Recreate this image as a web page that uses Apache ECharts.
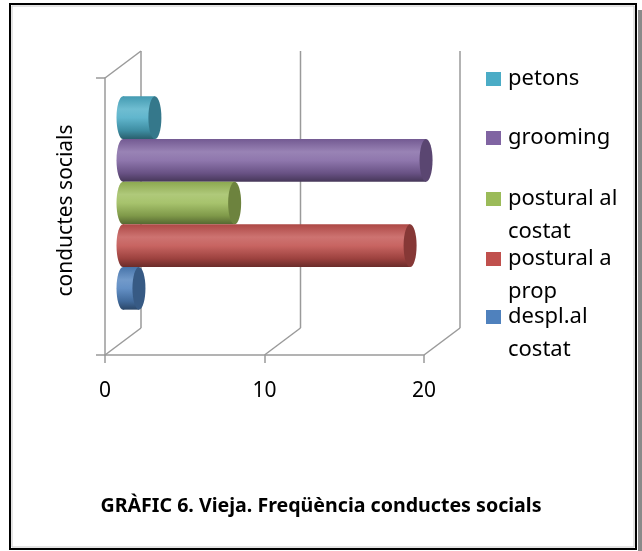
<!DOCTYPE html>
<html><head><meta charset="utf-8">
<script src="https://cdn.jsdelivr.net/npm/echarts@6/dist/echarts.min.js"></script>
<style>html,body{margin:0;padding:0;background:#fff}#c{width:642px;height:551px}</style>
</head><body><div id="c"></div>
<script>
// ---- data ----
const categories = ['conductes socials'];
const seriesNames = ['petons', 'grooming', 'postural al costat', 'postural a prop', 'despl.al costat'];
const petonsValues = [2];
const groomingValues = [19];
const posturalCostatValues = [7];
const posturalPropValues = [18];
const desplCostatValues = [1];
const legendLabels = ['petons', 'grooming', 'postural al\ncostat', 'postural a\nprop', 'despl.al\ncostat'];
const xTicks = [0, 10, 20];
const xMin = 0, xMax = 20, xStep = 10;
const titleText = 'GRÀFIC 6. Vieja. Freqüència conductes socials';
const yAxisTitle = 'conductes socials';

// ---- style ----
const colors = ['#4BACC6', '#8064A2', '#9BBB59', '#C0504D', '#4F81BD'];
const allValues = [petonsValues, groomingValues, posturalCostatValues, posturalPropValues, desplCostatValues];
const DX = 36, DY = -27; // oblique depth of the 3D box
const FONT = 'Noto Sans';
const GRID_COLOR = '#9a9a9a';

function shade(hex, f) {
  const n = parseInt(hex.slice(1), 16);
  const r = n >> 16, g = (n >> 8) & 255, b = n & 255;
  const m = f > 0 ? (c => Math.round(c + (255 - c) * f)) : (c => Math.round(c * (1 + f)));
  return 'rgb(' + m(r) + ',' + m(g) + ',' + m(b) + ')';
}
function bodyGrad(hex) {
  return new echarts.graphic.LinearGradient(0, 0, 0, 1, [
    { offset: 0, color: shade(hex, -0.1) },
    { offset: 0.3, color: shade(hex, 0.2) },
    { offset: 0.5, color: shade(hex, 0.12) },
    { offset: 0.8, color: shade(hex, -0.18) },
    { offset: 1, color: shade(hex, -0.45) }
  ]);
}

const N = seriesNames.length;
function barRender(idx) {
  return function (params, api) {
    const v = api.value(0), c = api.value(1);
    const p0 = api.coord([0, c]);
    const p1 = api.coord([v, c]);
    const band = api.size([0, 1])[1];
    const groupH = band * 0.77;
    const bh = groupH / N;
    const cy = p0[1] + DY / 2 - groupH / 2 + bh * (idx + 0.5);
    const x0 = p0[0] + DX / 2, x1 = p1[0] + DX / 2;
    const rx = 6.5, ry = bh / 2;
    const col = colors[idx];
    return {
      type: 'group',
      children: [
        { type: 'ellipse', shape: { cx: x0, cy: cy, rx: rx, ry: ry }, style: { fill: bodyGrad(col) } },
        { type: 'rect', shape: { x: x0, y: cy - ry, width: Math.max(0, x1 - x0), height: 2 * ry }, style: { fill: bodyGrad(col) } },
        { type: 'ellipse', shape: { cx: x1, cy: cy, rx: rx, ry: ry }, style: { fill: shade(col, -0.3) } }
      ]
    };
  };
}

function frameRender(params, api) {
  const t = api.value(0);
  const cs = params.coordSys;
  const p = api.coord([t, 0]);
  const top = cs.y, bottom = cs.y + cs.height;
  const st = { stroke: GRID_COLOR, lineWidth: 1.5, fill: null };
  const ch = [
    { type: 'line', shape: { x1: p[0] + DX, y1: top + DY, x2: p[0] + DX, y2: bottom + DY }, style: st },
    { type: 'line', shape: { x1: p[0], y1: bottom, x2: p[0] + DX, y2: bottom + DY }, style: st }
  ];
  if (params.dataIndex === 0) {
    ch.push({ type: 'line', shape: { x1: p[0], y1: top, x2: p[0] + DX, y2: top + DY }, style: st });
  }
  return { type: 'group', children: ch };
}

const series = [{
  type: 'custom', name: '_frame', z: 1, silent: true,
  renderItem: frameRender,
  encode: { x: 0, y: 1 },
  data: xTicks.map(t => [t, 0])
}];
seriesNames.forEach((nm, i) => {
  series.push({
    type: 'custom', name: nm, z: 3,
    itemStyle: { color: colors[i] },
    renderItem: barRender(i),
    encode: { x: 0, y: 1 },
    data: allValues[i].map((v, k) => [v, k])
  });
});

// legend icon centers (one legend per entry to mimic the Excel layout)
const legendCenters = [79, 138, 199, 259, 317];
const legends = seriesNames.map((nm, i) => {
  const twoLine = legendLabels[i].indexOf('\n') >= 0;
  return {
    data: [nm], orient: 'vertical', left: 486,
    top: legendCenters[i] - (twoLine ? 49.5 : 16.5),
    padding: 0, icon: 'rect', itemWidth: 15, itemHeight: 14,
    selectedMode: false,
    // a leading blank line keeps the icon level with the first text line
    formatter: () => (twoLine ? '\n' : '') + legendLabels[i],
    textStyle: { fontFamily: FONT, fontSize: 22, lineHeight: 33, color: '#000', padding: [0, 0, 0, 2] }
  };
});

const chart = echarts.init(document.getElementById('c'), null, { renderer: 'canvas' });
chart.setOption({
  animation: false,
  color: colors,
  title: {
    text: titleText, left: 'center', top: 491,
    textStyle: { fontFamily: FONT, fontSize: 19.6, fontWeight: 'bold', color: '#000' }
  },
  legend: legends,
  grid: { left: 105, top: 78, width: 319, height: 277 },
  xAxis: {
    type: 'value', min: xMin, max: xMax, interval: xStep,
    axisLine: { show: true, lineStyle: { color: GRID_COLOR, width: 1.5 } },
    axisTick: { show: true, length: 8, lineStyle: { color: GRID_COLOR, width: 1.5 } },
    splitLine: { show: false },
    axisLabel: { fontFamily: FONT, fontSize: 21, color: '#000', margin: 26 }
  },
  yAxis: {
    type: 'category', data: categories,
    axisLine: { show: true, lineStyle: { color: GRID_COLOR, width: 1.5 } },
    axisTick: { show: true, length: 9, lineStyle: { color: GRID_COLOR, width: 1.5 } },
    axisLabel: { show: false },
    name: yAxisTitle, nameLocation: 'middle', nameGap: 28,
    nameTextStyle: { fontFamily: FONT, fontSize: 21, color: '#000', padding: [0, 0, 0, 12] }
  },
  graphic: [
    { type: 'rect', shape: { x: 10, y: 4, width: 626, height: 545 }, style: { fill: null, stroke: '#000', lineWidth: 2 }, z: 100 },
    { type: 'rect', shape: { x: 12, y: 6, width: 622, height: 541 }, style: { fill: null, stroke: '#c8c8c8', lineWidth: 1 }, z: 100 },
    { type: 'rect', shape: { x: 638, y: 10, width: 4, height: 541 }, style: { fill: '#8a8a8a' }, z: 100 }
  ],
  series: series
});
</script>
</body></html>
